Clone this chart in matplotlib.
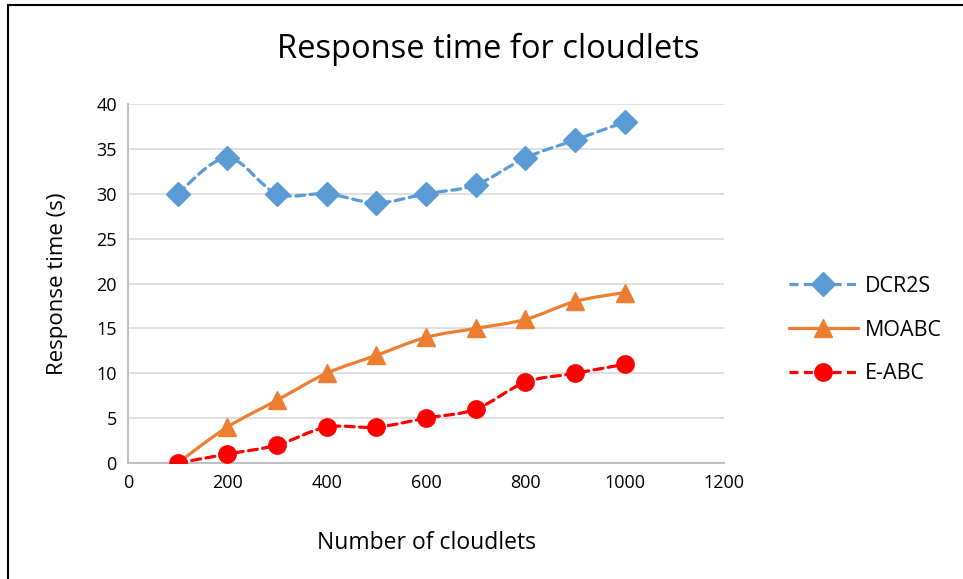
import numpy as np
import matplotlib
matplotlib.use("Agg")
import matplotlib.pyplot as plt
from matplotlib.path import Path
from matplotlib.patches import PathPatch
from matplotlib.lines import Line2D

cloudlets = [100, 200, 300, 400, 500, 600, 700, 800, 900, 1000]
dcr2s = [30, 34, 30, 30, 29, 30, 31, 34, 36, 38]
moabc = [0, 4, 7, 10, 12, 14, 15, 16, 18, 19]
eabc = [0, 1, 2, 4, 4, 5, 6, 9, 10, 11]
series_names = ["DCR2S", "MOABC", "E-ABC"]

x_ticks = [0, 200, 400, 600, 800, 1000, 1200]
y_ticks = [0, 5, 10, 15, 20, 25, 30, 35, 40]

plt.rcParams["font.family"] = ["Open Sans", "DejaVu Sans"]

fig = plt.figure(figsize=(9.63, 5.79), dpi=100)
ax = fig.add_axes([0.1329, 0.2003, 0.619, 0.620])


def smooth_path(xs, ys):
    """Cardinal-spline Bezier path through the points (spreadsheet-style smoothing)."""
    xs = np.asarray(xs, float)
    ys = np.asarray(ys, float)
    n = len(xs)
    verts = [(xs[0], ys[0])]
    codes = [Path.MOVETO]
    t = 1.0 / 6.0
    for i in range(n - 1):
        p0 = i - 1 if i > 0 else i
        p3 = i + 2 if i + 2 < n else i + 1
        c1 = (xs[i] + (xs[i + 1] - xs[p0]) * t, ys[i] + (ys[i + 1] - ys[p0]) * t)
        c2 = (xs[i + 1] - (xs[p3] - xs[i]) * t, ys[i + 1] - (ys[p3] - ys[i]) * t)
        verts += [c1, c2, (xs[i + 1], ys[i + 1])]
        codes += [Path.CURVE4] * 3
    return Path(verts, codes)


dash = (0, (2.8, 1.7))
styles = [
    dict(color="#5B9BD5", ls=dash, marker="D", ms=12),
    dict(color="#ED7D31", ls="-", marker="^", ms=13.5),
    dict(color="#FF0000", ls=dash, marker="o", ms=12.5),
]

handles = []
for vals, name, st in zip([dcr2s, moabc, eabc], series_names, styles):
    patch = PathPatch(smooth_path(cloudlets, vals), facecolor="none",
                      edgecolor=st["color"], lw=2.3, linestyle=st["ls"],
                      capstyle="round", zorder=3)
    ax.add_patch(patch)
    ax.plot(cloudlets, vals, ls="none", marker=st["marker"], ms=st["ms"],
            color=st["color"], mec=st["color"], zorder=4)
    handles.append(Line2D([], [], color=st["color"], lw=2.3, ls=st["ls"],
                          marker=st["marker"], ms=st["ms"], label=name))

ax.set_xlim(0, 1200)
ax.set_ylim(0, 40)
ax.set_xticks(x_ticks)
ax.set_yticks(y_ticks)
ax.tick_params(axis="both", length=0, labelsize=13, pad=8)
ax.grid(axis="y", color="#D9D9D9", lw=1.2)
ax.set_axisbelow(True)
for s in ["top", "right"]:
    ax.spines[s].set_visible(False)
for s in ["left", "bottom"]:
    ax.spines[s].set_color("#BFBFBF")
    ax.spines[s].set_linewidth(1.5)

ax.set_xlabel("Number of cloudlets", fontsize=16.5, labelpad=28)
ax.set_ylabel("Response time (s)", fontsize=16, labelpad=20)
fig.text(0.507, 0.915, "Response time for cloudlets", fontsize=23.5,
         ha="center", va="center")

fig.legend(handles=handles, loc="center left", bbox_to_anchor=(0.799, 0.430),
           frameon=False, fontsize=15.5, handlelength=3.2, labelspacing=1.05,
           handletextpad=0.35)

# outer chart frame (left and top edges)
fig.add_artist(Line2D([0.0085, 0.0085], [0, 0.991], color="black", lw=1.5,
                      transform=fig.transFigure))
fig.add_artist(Line2D([0.0085, 1.0], [0.991, 0.991], color="black", lw=1.5,
                      transform=fig.transFigure))

fig.savefig("out.png", dpi=100)
